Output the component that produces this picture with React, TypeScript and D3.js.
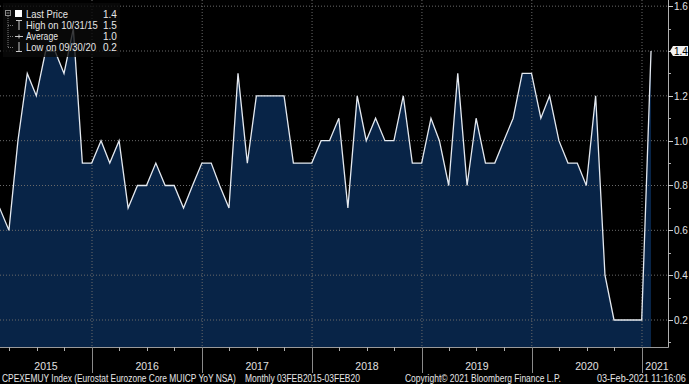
import * as d3 from "d3";
import React, { useEffect, useRef } from "react";

// monthly values, month-end dates, Feb 2015 .. Jan 2021
const v2015 = [0.7, 0.6, 1.0, 1.3, 1.2, 1.4, 1.4, 1.3, 1.5, 0.9, 0.9];
const v2016 = [1.0, 0.9, 1.0, 0.7, 0.8, 0.8, 0.9, 0.8, 0.8, 0.7, 0.8, 0.9];
const v2017 = [0.9, 0.8, 0.7, 1.3, 0.9, 1.2, 1.2, 1.2, 1.2, 0.9, 0.9, 0.9];
const v2018 = [1.0, 1.0, 1.1, 0.7, 1.2, 1.0, 1.1, 1.0, 1.0, 1.2, 0.9, 0.9];
const v2019 = [1.1, 1.0, 0.8, 1.3, 0.8, 1.1, 0.9, 0.9, 1.0, 1.1, 1.3, 1.3];
const v2020 = [1.1, 1.2, 1.0, 0.9, 0.9, 0.8, 1.2, 0.4, 0.2, 0.2, 0.2, 0.2];
const v2021 = [1.4];

const yearLabels = ["2015", "2016", "2017", "2018", "2019", "2020", "2021"];
const yTicks = [0.2, 0.4, 0.6, 0.8, 1.0, 1.2, 1.4, 1.6];
const yMinorTicks = [0.1, 0.3, 0.5, 0.7, 0.9, 1.1, 1.3, 1.5];

const legendLabels = ["Last Price", "High on 10/31/15", "Average", "Low on 09/30/20"];
const legendLens = [42, 72, 32, 70];
const legendValues = ["1.4", "1.5", "1.0", "0.2"];
const lastValue = "1.4";

const footer = [
  { text: "CPEXEMUY Index (Eurostat Eurozone Core MUICP YoY NSA)", x: 2, len: 234 },
  { text: "Monthly 03FEB2015-03FEB20", x: 245, len: 115 },
  { text: "Copyright\u00a9 2021 Bloomberg Finance L.P.", x: 405, len: 156 },
  { text: "03-Feb-2021 11:16:06", x: 597, len: 89 },
];

const W = 689;
const H = 384;
const FONT = "Liberation Sans Narrow, Liberation Sans, Arial, sans-serif";

// squeeze a text horizontally to a given width
const fitText = (sel: any, text: string, x: number, y: number, len: number, size: string) => {
  const t = sel.append("text").attr("x", 0).attr("y", 0)
    .attr("fill", "#e6e6e6").style("font-family", FONT)
    .style("font-size", size).text(text);
  const w = (t.node() as SVGTextElement).getComputedTextLength() || len;
  t.attr("transform", `translate(${x},${y}) scale(${len / w},1)`);
  return t;
};

const App = () => {
  const ref = useRef<SVGSVGElement | null>(null);

  useEffect(() => {
    const plot = { left: 0, right: 668, top: 0, bottom: 347 };
    const values = [...v2015, ...v2016, ...v2017, ...v2018, ...v2019, ...v2020, ...v2021];
    // month-end dates starting Feb 2015
    const data = values.map((v, i) => ({ date: new Date(Date.UTC(2015, 2 + i, 0)), value: v }));

    const xScale = d3.scaleUtc().domain([new Date(Date.UTC(2016, 0, 1)), new Date(Date.UTC(2021, 0, 1))]).range([92, 642]);
    const yScale = d3.scaleLinear().domain([0.2, 1.4]).range([320, 51]);

    const svg = d3.select(ref.current);
    svg.selectAll("*").remove();

    svg.append("rect").attr("width", W).attr("height", H).attr("fill", "#000");

    svg.append("defs").append("clipPath").attr("id", "plotclip")
      .append("rect").attr("x", plot.left).attr("y", plot.top)
      .attr("width", plot.right - plot.left).attr("height", plot.bottom - plot.top);

    const g = svg.append("g").attr("clip-path", "url(#plotclip)");

    // area fill
    const area = d3.area<any>()
      .x((d) => xScale(d.date))
      .y0(plot.bottom)
      .y1((d) => yScale(d.value));
    g.append("path").datum(data).attr("d", area).attr("fill", "#082447");

    // grid
    yTicks.forEach((t) => {
      g.append("line")
        .attr("x1", plot.left).attr("x2", plot.right)
        .attr("y1", yScale(t)).attr("y2", yScale(t))
        .attr("stroke", "#6a6a6a").attr("stroke-width", 1).attr("stroke-dasharray", "1,2");
    });
    const years = d3.utcYear.range(new Date(Date.UTC(2016, 0, 1)), new Date(Date.UTC(2021, 0, 2)));
    years.forEach((d) => {
      g.append("line")
        .attr("x1", xScale(d)).attr("x2", xScale(d))
        .attr("y1", plot.top).attr("y2", plot.bottom)
        .attr("stroke", "#6a6a6a").attr("stroke-width", 1).attr("stroke-dasharray", "1,2");
    });

    // line
    const line = d3.line<any>().x((d) => xScale(d.date)).y((d) => yScale(d.value));
    g.append("path").datum(data).attr("d", line)
      .attr("fill", "none").attr("stroke", "#e4e9f0").attr("stroke-width", 1.3)
      .attr("stroke-linejoin", "miter");

    // axes lines
    svg.append("line").attr("x1", 0).attr("x2", plot.right + 0.5)
      .attr("y1", plot.bottom + 0.5).attr("y2", plot.bottom + 0.5)
      .attr("stroke", "#9a9a9a");
    svg.append("line").attr("x1", plot.right + 0.5).attr("x2", plot.right + 0.5)
      .attr("y1", 0).attr("y2", plot.bottom + 0.5)
      .attr("stroke", "#b0b0b0");

    // right axis ticks and labels
    yTicks.forEach((t) => {
      const y = Math.round(yScale(t)) + 0.5;
      svg.append("line").attr("x1", plot.right).attr("x2", plot.right + 5)
        .attr("y1", y).attr("y2", y).attr("stroke", "#d0d0d0");
      if (d3.format(".1f")(t) === lastValue) return;
      svg.append("text").attr("x", plot.right + 6).attr("y", y + 3.5)
        .attr("fill", "#e0e0e0").style("font-family", "Liberation Sans, Arial, sans-serif")
        .style("font-size", "10px").text(d3.format(".1f")(t));
    });
    yMinorTicks.forEach((t) => {
      const y = Math.round(yScale(t)) + 0.5;
      svg.append("line").attr("x1", plot.right).attr("x2", plot.right + 3)
        .attr("y1", y).attr("y2", y).attr("stroke", "#b0b0b0");
    });

    // last value marker
    const ly = yScale(+lastValue);
    svg.append("path")
      .attr("d", `M${plot.right + 2},${ly} L${plot.right + 5},${ly - 5} L${W - 1},${ly - 5} L${W - 1},${ly + 5} L${plot.right + 5},${ly + 5} Z`)
      .attr("fill", "#f2f2f2");
    svg.append("text").attr("x", plot.right + 6).attr("y", ly + 3.5)
      .attr("fill", "#000").style("font-family", "Liberation Sans, Arial, sans-serif")
      .style("font-size", "10px").text(lastValue);

    // x axis: quarter ticks, year separators, year labels
    const quarters = d3.utcMonth.every(3)!.range(new Date(Date.UTC(2015, 3, 1)), new Date(Date.UTC(2021, 0, 1)));
    quarters.forEach((d) => {
      if (d.getUTCMonth() === 0) return;
      const x = Math.round(xScale(d)) + 0.5;
      svg.append("line").attr("x1", x).attr("x2", x)
        .attr("y1", plot.bottom).attr("y2", plot.bottom + 4).attr("stroke", "#b0b0b0");
    });
    years.forEach((d) => {
      const x = Math.round(xScale(d)) + 0.5;
      svg.append("line").attr("x1", x).attr("x2", x)
        .attr("y1", plot.bottom).attr("y2", plot.bottom + 26).attr("stroke", "#8a8a8a");
    });
    yearLabels.forEach((label, i) => {
      const a = Math.max(plot.left, xScale(new Date(Date.UTC(2015 + i, 0, 1))));
      const b = Math.min(plot.right, xScale(new Date(Date.UTC(2016 + i, 0, 1))));
      svg.append("text").attr("x", (a + b) / 2 + (i === 6 ? 2 : 0)).attr("y", 369.5)
        .attr("text-anchor", "middle").attr("fill", "#e0e0e0")
        .style("font-family", "Liberation Sans, Arial, sans-serif").style("font-size", "10.5px")
        .text(label);
    });

    // footer
    footer.forEach((f) => fitText(svg, f.text, f.x, 382, f.len, "10.5px"));

    // legend
    const lg = svg.append("g");
    lg.append("rect").attr("x", 3).attr("y", 3).attr("width", 117).attr("height", 54)
      .attr("fill", "#0a0a0a").attr("fill-opacity", 0.78);
    const rowY = [14, 25, 36, 47];
    // tree
    lg.append("rect").attr("x", 5.5).attr("y", 10.5).attr("width", 5).attr("height", 5)
      .attr("fill", "none").attr("stroke", "#8a8a8a");
    lg.append("line").attr("x1", 6.5).attr("x2", 9.5).attr("y1", 13).attr("y2", 13).attr("stroke", "#8a8a8a");
    lg.append("line").attr("x1", 8).attr("x2", 8).attr("y1", 16).attr("y2", 47)
      .attr("stroke", "#7a7a7a").attr("stroke-dasharray", "1,1");
    rowY.slice(1).forEach((y) => {
      lg.append("line").attr("x1", 8).attr("x2", 13).attr("y1", y + 0.5).attr("y2", y + 0.5)
        .attr("stroke", "#7a7a7a").attr("stroke-dasharray", "1,1");
    });
    // symbols
    lg.append("rect").attr("x", 15).attr("y", 10).attr("width", 7).attr("height", 7).attr("fill", "#fff");
    lg.append("path").attr("d", "M16,20.5 H22 M19,20.5 V30").attr("stroke", "#c8c8c8").attr("fill", "none");
    lg.append("path").attr("d", "M15,36.5 H23 M19,34.5 V38.5").attr("stroke", "#c8c8c8").attr("fill", "none");
    lg.append("path").attr("d", "M19,42 V51.5 M16,51.5 H22").attr("stroke", "#c8c8c8").attr("fill", "none");
    legendLabels.forEach((label, i) => {
      fitText(lg, label, 26, rowY[i] + 3.5, legendLens[i], "10.5px");
      lg.append("text").attr("x", 103).attr("y", rowY[i] + 3.5)
        .attr("fill", "#e8e8e8").style("font-family", "Liberation Sans, Arial, sans-serif")
        .style("font-size", "10px").text(legendValues[i]);
    });
  }, []);

  return (
    <svg
      ref={ref}
      width={W}
      height={H}
      style={{ position: "fixed", left: 0, top: 0, display: "block", background: "#000" }}
    />
  );
};

export default App;
